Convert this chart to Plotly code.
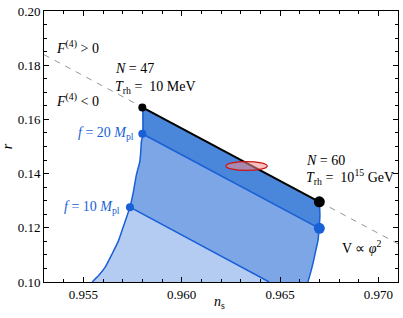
import plotly.graph_objects as go

# ---- data ----
n47 = (0.9580, 0.1644)
n60 = (0.9670, 0.1296)
f20_left = (0.9580, 0.1547)
f20_right = (0.9670, 0.1198)
f10_left = (0.95737, 0.1276)
f10_bottom = (0.96445, 0.1000)

# left boundary curve (from N=47 down to r=0.10)
left_ns = [0.95803, 0.95803, 0.95795, 0.95792, 0.95787, 0.95770, 0.95755, 0.95737,
           0.95710, 0.95679, 0.95645, 0.95612, 0.95580, 0.95545]
left_r = [0.16436, 0.15465, 0.15164, 0.14800, 0.14436, 0.13964, 0.13345, 0.12764,
          0.12182, 0.11527, 0.11018, 0.10556, 0.10255, 0.10000]
I10 = 7  # index of the f = 10 point on the left curve
# right boundary curve (from N=60 down to r=0.10)
right_ns = [0.96700, 0.96703, 0.96699, 0.96693, 0.96682, 0.96670, 0.96659, 0.96642]
right_r = [0.12956, 0.12473, 0.11982, 0.11527, 0.11164, 0.10764, 0.10436, 0.10000]
I20 = 2  # index of the f = 20 point on the right curve

dash_ns = [0.953, 0.971]
dash_r = [0.1839, 0.1141]

ell_center = (0.9633, 0.1428)
ell_half = (0.00105, 0.00164)

xticks = [0.955, 0.960, 0.965, 0.970]
yticks = [0.10, 0.12, 0.14, 0.16, 0.18, 0.20]

DARK = "rgb(74,134,217)"
MED = "rgb(124,166,230)"
LIGHT = "rgb(180,204,242)"
LINE = "rgb(25,95,215)"
FONT = "Liberation Serif"

fig = go.Figure()

fig.add_trace(go.Scatter(x=dash_ns, y=dash_r, mode="lines",
                         line=dict(color="rgb(150,150,150)", width=1, dash="6px,6px"),
                         hoverinfo="skip"))

outer_x = left_ns + [f10_bottom[0]] + right_ns[::-1] + [n47[0]]
outer_y = left_r + [0.10] + right_r[::-1] + [n47[1]]
fig.add_trace(go.Scatter(x=outer_x, y=outer_y, mode="lines", fill="toself",
                         fillcolor=MED, line=dict(width=0), hoverinfo="skip"))

light_x = left_ns[I10:] + [f10_bottom[0], f10_left[0]]
light_y = left_r[I10:] + [f10_bottom[1], f10_left[1]]
fig.add_trace(go.Scatter(x=light_x, y=light_y, mode="lines", fill="toself",
                         fillcolor=LIGHT, line=dict(width=0), hoverinfo="skip"))

dark_x = [n47[0], n60[0]] + right_ns[1:I20 + 1] + [f20_left[0], n47[0]]
dark_y = [n47[1], n60[1]] + right_r[1:I20 + 1] + [f20_left[1], n47[1]]
fig.add_trace(go.Scatter(x=dark_x, y=dark_y, mode="lines", fill="toself",
                         fillcolor=DARK, line=dict(width=0), hoverinfo="skip"))

for xs, ys in [(left_ns, left_r), (right_ns, right_r)]:
    fig.add_trace(go.Scatter(x=xs, y=ys, mode="lines",
                             line=dict(color=LINE, width=1.5, shape="spline", smoothing=0.5),
                             hoverinfo="skip"))
for xs, ys in [([f20_left[0], f20_right[0]], [f20_left[1], f20_right[1]]),
               ([f10_left[0], f10_bottom[0]], [f10_left[1], f10_bottom[1]])]:
    fig.add_trace(go.Scatter(x=xs, y=ys, mode="lines",
                             line=dict(color=LINE, width=1.5), hoverinfo="skip"))
fig.add_trace(go.Scatter(x=[n47[0], n60[0]], y=[n47[1], n60[1]], mode="lines",
                         line=dict(color="black", width=2), hoverinfo="skip"))

fig.add_shape(type="circle", xref="x", yref="y",
              x0=ell_center[0] - ell_half[0], x1=ell_center[0] + ell_half[0],
              y0=ell_center[1] - ell_half[1], y1=ell_center[1] + ell_half[1],
              fillcolor="rgba(245,140,140,0.55)", line=dict(color="rgb(200,20,20)", width=1.3))

fig.add_trace(go.Scatter(x=[n47[0]], y=[n47[1]], mode="markers",
                         marker=dict(color="black", size=8), hoverinfo="skip"))
fig.add_trace(go.Scatter(x=[f20_left[0], f10_left[0]], y=[f20_left[1], f10_left[1]], mode="markers",
                         marker=dict(color=LINE, size=8), hoverinfo="skip"))
fig.add_trace(go.Scatter(x=[n60[0]], y=[n60[1]], mode="markers",
                         marker=dict(color="black", size=11), hoverinfo="skip"))
fig.add_trace(go.Scatter(x=[f20_right[0]], y=[f20_right[1]], mode="markers",
                         marker=dict(color=LINE, size=11), hoverinfo="skip"))

def ann(x, y, text, xanchor="left", color="black", ref="data"):
    kw = dict(xref="x", yref="y") if ref == "data" else dict(xref="paper", yref="paper")
    fig.add_annotation(x=x, y=y, text=text, showarrow=False,
                       xanchor=xanchor, yanchor="middle",
                       font=dict(family=FONT, size=14, color=color), **kw)

ann(0.95350, 0.1869, "<i>F</i><sup>(4)</sup> > 0")
ann(0.95350, 0.1673, "<i>F</i><sup>(4)</sup> < 0")
ann(0.95650, 0.1786, "<i>N</i> = 47")
ann(0.95650, 0.1718, "<i>T</i><sub>rh</sub> =  10 MeV")
ann(0.9577, 0.1547, "<i>f</i> = 20 <i>M</i><sub>pl</sub>", xanchor="right", color=LINE)
ann(0.95695, 0.1276, "<i>f</i> = 10 <i>M</i><sub>pl</sub>", xanchor="right", color=LINE)
ann(0.96620, 0.1450, "<i>N</i> = 60")
ann(0.96620, 0.1386, "<i>T</i><sub>rh</sub> =  10<sup>15</sup> GeV")
ann(0.96805, 0.1128, "V ∝ <i>φ</i><sup>2</sup>")
ann(0.497, -0.076, "<i>n</i><sub>s</sub>", xanchor="center", ref="paper")

axis_common = dict(showline=True, linecolor="black", linewidth=1, mirror="allticks",
                   ticks="inside", ticklen=5, tickcolor="black", showgrid=False,
                   zeroline=False, ticklabeloverflow="allow",
                   tickfont=dict(family=FONT, size=13, color="black"))

fig.update_xaxes(range=[0.953, 0.971], tickvals=xticks, ticktext=[f"{v:.3f}" for v in xticks],
                 minor=dict(dtick=0.001, tick0=0.953, ticks="inside", ticklen=3, tickcolor="black"),
                 **axis_common)
fig.update_yaxes(range=[0.10, 0.20], tickvals=yticks, ticktext=[f"{v:.2f}" for v in yticks],
                 minor=dict(dtick=0.005, tick0=0.10, ticks="inside", ticklen=3, tickcolor="black"),
                 title=dict(text="<i>r</i>", font=dict(family=FONT, size=14), standoff=4),
                 **axis_common)

fig.update_layout(width=403, height=318, margin=dict(l=42, r=4, t=7, b=36),
                  font=dict(family=FONT, size=13, color="black"),
                  showlegend=False, plot_bgcolor="white", paper_bgcolor="white")

fig.write_html("out.html", config={"displayModeBar": False},
               post_script="document.body.style.margin='0';")
